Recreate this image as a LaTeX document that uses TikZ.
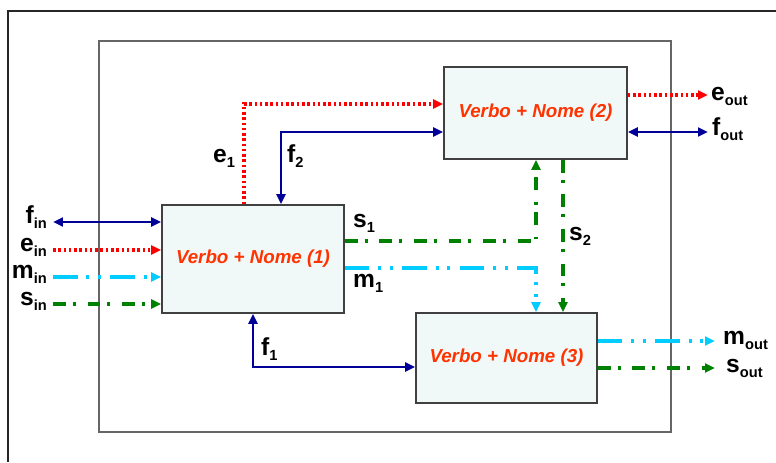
\documentclass[tikz,border=0pt]{standalone}
\usepackage{fontspec}
\setmainfont{Liberation Sans}
\usetikzlibrary{arrows.meta}

\definecolor{fblue}{HTML}{000099}
\definecolor{ered}{HTML}{FF0000}
\definecolor{mcyan}{HTML}{00CCFF}
\definecolor{sgreen}{HTML}{008000}
\definecolor{blockfill}{HTML}{F0F8F8}
\definecolor{blocktext}{HTML}{FF3300}

% signal name with a lowered index
\newcommand{\sig}[2]{\textbf{#1}\raisebox{-4.6pt}{\fontsize{12.5}{14}\selectfont\textbf{#2}}}

\begin{document}
\begin{tikzpicture}[x=0.03cm, y=-0.03cm,
    >={Triangle[length=8.5pt,width=7.5pt]},
    block/.style={draw=black!75, line width=1.4pt, fill=blockfill, text=blocktext,
      font=\fontsize{16}{18}\selectfont\bfseries\itshape},
    lbl/.style={font=\fontsize{21}{24}\selectfont, inner sep=0pt},
    fline/.style={draw=fblue, line width=2.3pt},
    eline/.style={draw=ered, line width=2.6pt, dash pattern=on 2.2pt off 2.3pt},
    mline/.style={draw=mcyan, line width=2.7pt,
      dash pattern=on 21pt off 7.5pt on 2.5pt off 7.5pt on 2.5pt off 8pt},
    sline/.style={draw=sgreen, line width=2.7pt,
      dash pattern=on 11pt off 6pt on 2.5pt off 10pt}]

  \useasboundingbox (0,0) rectangle (776,462);

  % frames
  \draw[line width=1.8pt, black!85] (8,462) -- (8,11) -- (776,11);
  \draw[line width=1.2pt, black!60] (99,41) rectangle (671,432);

  % the three blocks
  \node[block, minimum width=5.46cm, minimum height=3.24cm] (vn1) at (253,259) {Verbo + Nome (1)};
  \node[block, minimum width=5.49cm, minimum height=2.76cm] (vn2) at (535.5,113) {Verbo + Nome (2)};
  \node[block, minimum width=5.43cm, minimum height=2.7cm] (vn3) at (506.5,358) {Verbo + Nome (3)};

  % inputs on the left
  \foreach \sty/\y/\nm/\tip in {fline/222/f/<->, eline/250/e/->, mline/277/m/->, sline/304/s/->}{
    \coordinate (\nm in) at (53,\y);
    \draw[\sty,\tip] (\nm in) -- (\nm in -| vn1.west);
    \node[lbl, anchor=base east] (l\nm in) at (47,\y+1) {\sig{\nm}{in}};
  }

  % outputs on the right
  \coordinate (eout) at (708,95);
  \coordinate (fout) at (708,132);
  \coordinate (mout) at (715,341);
  \coordinate (sout) at (715,368);
  \draw[eline,->] (vn2.east |- eout) -- (eout);
  \draw[fline,<->] (vn2.east |- fout) -- (fout);
  \draw[mline,->] (vn3.east |- mout) -- (mout);
  \draw[sline,->] (vn3.east |- sout) -- (sout);
  \node[lbl, anchor=base west] (leout) at (711,100) {\sig{e}{out}};
  \node[lbl, anchor=base west] (lfout) at (712,135) {\sig{f}{out}};
  \node[lbl, anchor=base west] (lmout) at (723,344) {\sig{m}{out}};
  \node[lbl, anchor=base west] (lsout) at (726,372) {\sig{s}{out}};

  % links between blocks
  \coordinate (e1) at (244,104);
  \coordinate (f2) at (281,132);
  \coordinate (s1) at (536,241);
  \coordinate (m1) at (536,268);
  \coordinate (s2) at (563,200);
  \coordinate (f1) at (253,367);
  \draw[eline,->] (vn1.north -| e1) -- (e1) -- (e1 -| vn2.west);
  \draw[fline,<->] (vn1.north -| f2) -- (f2) -- (f2 -| vn2.west);
  \draw[sline,->] (s1 -| vn1.east) -- (s1) -- (s1 |- vn2.south);
  \draw[mline,->] (m1 -| vn1.east) -- (m1) -- (m1 |- vn3.north);
  \draw[sline,->] (vn2.south -| s2) -- (vn3.north -| s2);
  \draw[fline,<->] (vn1.south -| f1) -- (f1) -- (f1 -| vn3.west);

  % link labels
  \node[lbl, anchor=base west] (le1) at (213,162) {\sig{e}{1}};
  \node[lbl, anchor=base west] (lf2) at (287,162) {\sig{f}{2}};
  \node[lbl, anchor=base west] (ls1) at (353,227) {\sig{s}{1}};
  \node[lbl, anchor=base west] (lm1) at (353,287) {\sig{m}{1}};
  \node[lbl, anchor=base west] (ls2) at (569,240) {\sig{s}{2}};
  \node[lbl, anchor=base west] (lf1) at (261,355) {\sig{f}{1}};

\end{tikzpicture}
\end{document}
